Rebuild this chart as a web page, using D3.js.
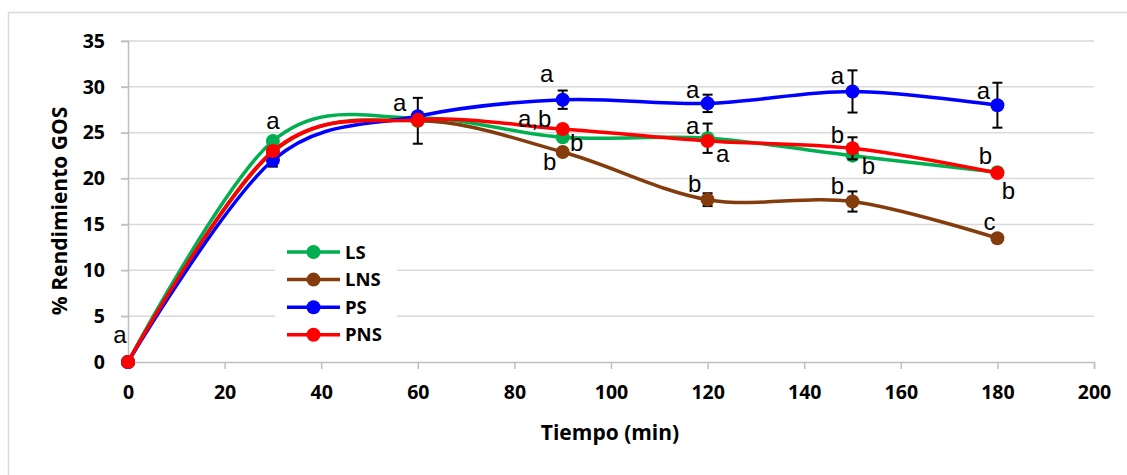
<!DOCTYPE html>
<html>
<head>
<meta charset="utf-8">
<script src="https://cdn.jsdelivr.net/npm/d3@7"></script>
<style>
  html, body { margin: 0; padding: 0; background: #fff; }
  svg { display: block; }
</style>
</head>
<body>
<svg id="chart" width="1127" height="475"></svg>
<script>
// Sampling times (min)
const times = [0, 30, 60, 90, 120, 150, 180];

// GOS yield (%) per treatment
const seriesNames = ["LS", "LNS", "PS", "PNS"];
const valuesLS  = [0, 24.1, 26.6, 24.5, 24.4, 22.5, 20.7];
const valuesLNS = [0, 22.9, 26.3, 22.9, 17.7, 17.5, 13.5];
const valuesPS  = [0, 22.0, 26.8, 28.6, 28.2, 29.5, 28.0];
const valuesPNS = [0, 23.0, 26.4, 25.4, 24.1, 23.3, 20.6];

// Standard deviation (0 = no bar drawn)
const errLS  = [0, 0, 0, 0, 1.6, 0, 0];
const errLNS = [0, 0, 2.5, 0, 0.7, 1.1, 0];
const errPS  = [0, 0.7, 0, 1.0, 0.95, 2.3, 2.45];
const errPNS = [0, 0, 0, 0, 0, 1.2, 0];

// Significance letters
const lettersLS  = ["a", "a", "", "b", "a", "b", "b"];
const lettersLNS = ["", "", "a", "b", "b", "b", "c"];
const lettersPS  = ["", "", "", "a", "a", "a", "a"];
const lettersPNS = ["", "", "", "a,b", "a", "b", "b"];

// Axis ticks
const xTicks = [0, 20, 40, 60, 80, 100, 120, 140, 160, 180, 200];
const yTicks = [0, 5, 10, 15, 20, 25, 30, 35];

// ---- presentation ----
const colors = ["#00B050", "#843C0C", "#0000FF", "#FF0000"];
const boldFont = "'Open Sans', Lato, sans-serif";
// letter offsets (px) from each point
const letterOffsets = [
  [[-8, -26], [0, -19], null, [14, 6], [15, 17], [16, 11], [11, 20]],
  [null, null, [-18, -17], [-13, 11], [-13, -15], [-15, -15], [-8, -15]],
  [null, null, null, [-16, -25], [-15, -13], [-15, -15], [-14, -13]],
  [null, null, null, [-28, -9], [-15, -14], [-15, -13], [-12, -16]]
];

const series = seriesNames.map((name, i) => ({
  name,
  color: colors[i],
  values: [valuesLS, valuesLNS, valuesPS, valuesPNS][i],
  err: [errLS, errLNS, errPS, errPNS][i],
  letters: [lettersLS, lettersLNS, lettersPS, lettersPNS][i],
  offsets: letterOffsets[i]
}));

const svg = d3.select("#chart");
const plotLeft = 128, plotRight = 1094, plotTop = 41, plotBottom = 362;

const x = d3.scaleLinear().domain([0, 200]).range([plotLeft, plotRight]);
const y = d3.scaleLinear().domain([0, 35]).range([plotBottom, plotTop]);

// outer chart frame
svg.append("rect")
  .attr("x", 8.5).attr("y", 12.5)
  .attr("width", 1200).attr("height", 600)
  .attr("fill", "#fff").attr("stroke", "#D9D9D9").attr("stroke-width", 1.5);

// horizontal gridlines
svg.append("g").selectAll("line")
  .data(yTicks.filter(d => d > 0))
  .join("line")
  .attr("x1", plotLeft - 7).attr("x2", plotRight)
  .attr("y1", d => y(d)).attr("y2", d => y(d))
  .attr("stroke", "#D9D9D9").attr("stroke-width", 1.5);

// y axis
const yAxis = svg.append("g")
  .attr("transform", `translate(${plotLeft},0)`)
  .call(d3.axisLeft(y).tickValues(yTicks).tickSize(7).tickPadding(16));
// x axis
const xAxis = svg.append("g")
  .attr("transform", `translate(0,${plotBottom})`)
  .call(d3.axisBottom(x).tickValues(xTicks).tickSize(7).tickPadding(16));

[yAxis, xAxis].forEach(g => {
  g.select(".domain").attr("stroke", "#BFBFBF").attr("stroke-width", 1.5);
  g.selectAll(".tick line").attr("stroke", "#BFBFBF").attr("stroke-width", 1.5);
  g.selectAll(".tick text")
    .attr("fill", "#000")
    .style("font-family", boldFont)
    .style("font-weight", "700")
    .style("font-size", "19.5px");
});

// axis titles
svg.append("text")
  .attr("x", 610).attr("y", 440)
  .attr("text-anchor", "middle")
  .style("font-family", boldFont)
  .style("font-weight", "700").style("font-size", "21px")
  .text("Tiempo (min)");

svg.append("text")
  .attr("transform", `translate(67,211) rotate(-90)`)
  .attr("text-anchor", "middle")
  .style("font-family", boldFont)
  .style("font-weight", "700").style("font-size", "21px")
  .text("% Rendimiento GOS");

// legend (drawn under the series)
const legend = svg.append("g").attr("transform", "translate(275,233)");
legend.append("rect").attr("width", 122).attr("height", 118).attr("fill", "#fff");
series.forEach((s, i) => {
  const g = legend.append("g").attr("transform", `translate(0,${19 + i * 27.6})`);
  g.append("line").attr("x1", 12).attr("x2", 65).attr("y1", 0).attr("y2", 0)
    .attr("stroke", s.color).attr("stroke-width", 3.5);
  g.append("circle").attr("cx", 38.5).attr("cy", 0).attr("r", 7).attr("fill", s.color);
  g.append("text").attr("x", 70).attr("y", 0).attr("dy", "0.36em")
    .style("font-family", boldFont)
    .style("font-weight", "700").style("font-size", "18.5px")
    .text(s.name);
});

// series: smooth line, error bars, markers
const line = d3.line()
  .x((d, i) => x(times[i]))
  .y(d => y(d))
  .curve(d3.curveCardinal.tension(0));

series.forEach(s => {
  const g = svg.append("g");
  g.append("path").datum(s.values)
    .attr("d", line)
    .attr("fill", "none").attr("stroke", s.color).attr("stroke-width", 3.5);

  const bars = s.values.map((v, i) => ({ t: times[i], v, e: s.err[i] })).filter(d => d.e > 0);
  const eb = g.append("g").attr("stroke", "#000").attr("stroke-width", 2);
  eb.selectAll("line.v").data(bars).join("line").attr("class", "v")
    .attr("x1", d => x(d.t)).attr("x2", d => x(d.t))
    .attr("y1", d => y(d.v - d.e)).attr("y2", d => y(d.v + d.e));
  eb.selectAll("line.top").data(bars).join("line").attr("class", "top")
    .attr("x1", d => x(d.t) - 5).attr("x2", d => x(d.t) + 5)
    .attr("y1", d => y(d.v + d.e)).attr("y2", d => y(d.v + d.e));
  eb.selectAll("line.bot").data(bars).join("line").attr("class", "bot")
    .attr("x1", d => x(d.t) - 5).attr("x2", d => x(d.t) + 5)
    .attr("y1", d => y(d.v - d.e)).attr("y2", d => y(d.v - d.e));

  g.selectAll("circle").data(s.values).join("circle")
    .attr("cx", (d, i) => x(times[i])).attr("cy", d => y(d))
    .attr("r", 7).attr("fill", s.color);
});

// significance letters
series.forEach(s => {
  const items = s.letters.map((l, i) => ({ l, t: times[i], v: s.values[i], o: s.offsets[i] }))
    .filter(d => d.l && d.o);
  svg.append("g").selectAll("text").data(items).join("text")
    .attr("x", d => x(d.t) + d.o[0])
    .attr("y", d => y(d.v) + d.o[1])
    .attr("dy", "0.3em")
    .attr("text-anchor", "middle")
    .style("font-family", "'Liberation Sans', Arial, sans-serif")
    .style("font-size", "24px")
    .attr("fill", "#000")
    .text(d => d.l);
});
</script>
</body>
</html>
